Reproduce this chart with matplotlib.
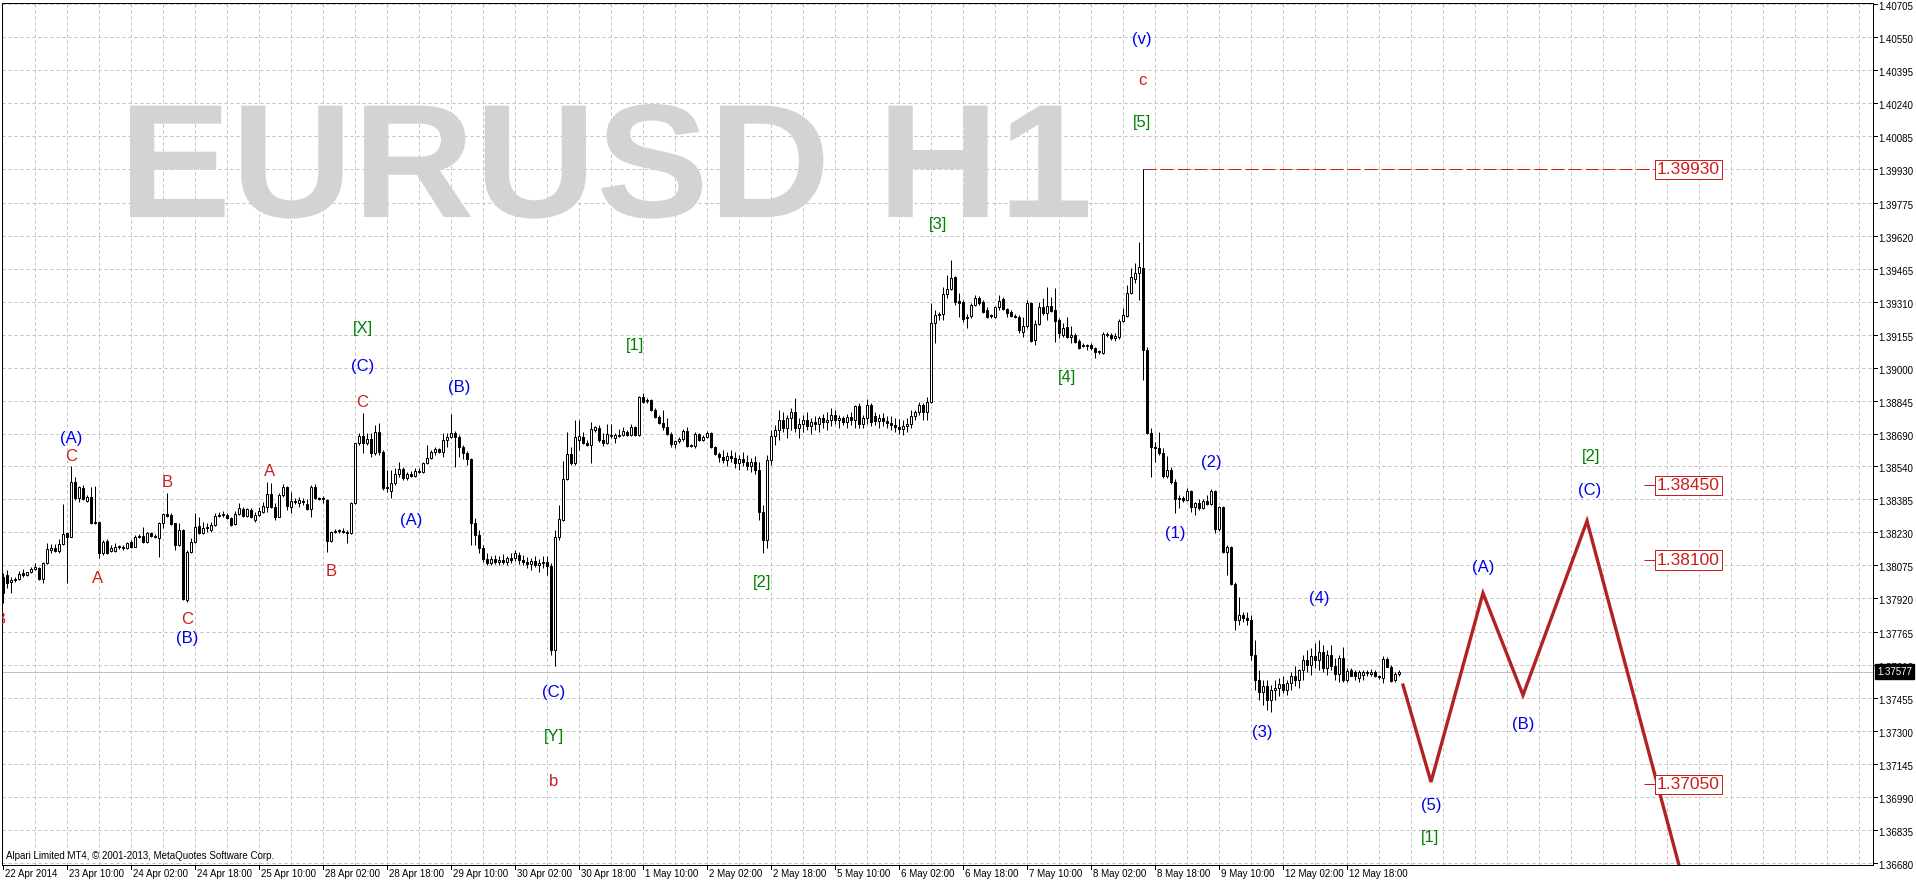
import matplotlib
matplotlib.use('Agg')
import matplotlib.pyplot as plt
import matplotlib.transforms as mtrans
from matplotlib.textpath import TextPath
from matplotlib.patches import PathPatch
from matplotlib.font_manager import FontProperties
import numpy as np

W, H = 1916, 884
PX = 0.72  # one pixel in points at dpi 100

# ---------------------------------------------------------------- data
time_labels = ['22 Apr 2014', '23 Apr 10:00', '24 Apr 02:00', '24 Apr 18:00', '25 Apr 10:00',
               '28 Apr 02:00', '28 Apr 18:00', '29 Apr 10:00', '30 Apr 02:00', '30 Apr 18:00',
               '1 May 10:00', '2 May 02:00', '2 May 18:00', '5 May 10:00', '6 May 02:00',
               '6 May 18:00', '7 May 10:00', '8 May 02:00', '8 May 18:00', '9 May 10:00',
               '12 May 02:00', '12 May 18:00']
time_label_bars = [0, 16, 32, 48, 64, 80, 96, 112, 128, 144, 160, 176, 192, 208, 224,
                   240, 256, 272, 288, 304, 320, 336]

price_ticks = [1.36680, 1.36835, 1.36990, 1.37145, 1.37300, 1.37455, 1.37610, 1.37765,
               1.37920, 1.38075, 1.38230, 1.38385, 1.38540, 1.38690, 1.38845, 1.39000,
               1.39155, 1.39310, 1.39465, 1.39620, 1.39775, 1.39930, 1.40085, 1.40240,
               1.40395, 1.40550, 1.40705]

opens = [
 1.38020, 1.38030, 1.37997, 1.38006, 1.38011, 1.38039, 1.38030, 1.38044, 1.38058, 1.38062,
 1.38011, 1.38086, 1.38147, 1.38156, 1.38142, 1.38175, 1.38226, 1.38208, 1.38466, 1.38391,
 1.38437, 1.38376, 1.38395, 1.38273, 1.38278, 1.38133, 1.38189, 1.38142, 1.38142, 1.38161,
 1.38161, 1.38156, 1.38184, 1.38161, 1.38208, 1.38212, 1.38184, 1.38226, 1.38208, 1.38203,
 1.38273, 1.38315, 1.38311, 1.38273, 1.38170, 1.38240, 1.37912, 1.38138, 1.38184, 1.38259,
 1.38226, 1.38250, 1.38240, 1.38264, 1.38306, 1.38311, 1.38311, 1.38297, 1.38268, 1.38315,
 1.38339, 1.38306, 1.38334, 1.38287, 1.38311, 1.38325, 1.38348, 1.38409, 1.38348, 1.38301,
 1.38405, 1.38442, 1.38348, 1.38372, 1.38367, 1.38376, 1.38362, 1.38339, 1.38442, 1.38391,
 1.38391, 1.38381, 1.38189, 1.38231, 1.38236, 1.38236, 1.38231, 1.38226, 1.38367, 1.38648,
 1.38681, 1.38648, 1.38667, 1.38601, 1.38700, 1.38606, 1.38437, 1.38423, 1.38461, 1.38503,
 1.38526, 1.38484, 1.38503, 1.38494, 1.38517, 1.38512, 1.38554, 1.38578, 1.38606, 1.38620,
 1.38606, 1.38662, 1.38676, 1.38695, 1.38676, 1.38629, 1.38601, 1.38573, 1.38273, 1.38217,
 1.38156, 1.38105, 1.38086, 1.38105, 1.38091, 1.38100, 1.38091, 1.38109, 1.38109, 1.38124,
 1.38100, 1.38091, 1.38081, 1.38095, 1.38077, 1.38086, 1.38091, 1.38072, 1.37678, 1.38208,
 1.38287, 1.38479, 1.38597, 1.38554, 1.38662, 1.38676, 1.38648, 1.38639, 1.38709, 1.38719,
 1.38662, 1.38648, 1.38681, 1.38671, 1.38681, 1.38686, 1.38700, 1.38686, 1.38723, 1.38686,
 1.38864, 1.38845, 1.38850, 1.38803, 1.38770, 1.38742, 1.38723, 1.38690, 1.38643, 1.38657,
 1.38667, 1.38704, 1.38634, 1.38634, 1.38690, 1.38662, 1.38676, 1.38695, 1.38629, 1.38597,
 1.38583, 1.38568, 1.38587, 1.38578, 1.38554, 1.38573, 1.38559, 1.38540, 1.38559, 1.38522,
 1.38325, 1.38194, 1.38568, 1.38681, 1.38709, 1.38756, 1.38719, 1.38765, 1.38793, 1.38719,
 1.38737, 1.38756, 1.38728, 1.38747, 1.38737, 1.38765, 1.38747, 1.38756, 1.38779, 1.38756,
 1.38765, 1.38747, 1.38770, 1.38756, 1.38822, 1.38737, 1.38765, 1.38826, 1.38775, 1.38751,
 1.38765, 1.38751, 1.38742, 1.38733, 1.38723, 1.38714, 1.38728, 1.38737, 1.38775, 1.38793,
 1.38826, 1.38793, 1.38841, 1.39210, 1.39248, 1.39253, 1.39346, 1.39370, 1.39426, 1.39313,
 1.39309, 1.39239, 1.39243, 1.39295, 1.39328, 1.39309, 1.39271, 1.39243, 1.39239, 1.39285,
 1.39323, 1.39276, 1.39262, 1.39243, 1.39239, 1.39168, 1.39197, 1.39304, 1.39131, 1.39206,
 1.39285, 1.39257, 1.39290, 1.39271, 1.39225, 1.39154, 1.39192, 1.39145, 1.39154, 1.39126,
 1.39103, 1.39108, 1.39108, 1.39093, 1.39075, 1.39070, 1.39159, 1.39154, 1.39140, 1.39145,
 1.39220, 1.39243, 1.39351, 1.39417, 1.39445, 1.39468, 1.39084, 1.38695, 1.38629, 1.38625,
 1.38601, 1.38494, 1.38522, 1.38466, 1.38386, 1.38391, 1.38381, 1.38423, 1.38348, 1.38367,
 1.38343, 1.38376, 1.38362, 1.38423, 1.38245, 1.38348, 1.38138, 1.38161, 1.37987, 1.37819,
 1.37842, 1.37828, 1.37819, 1.37655, 1.37537, 1.37481, 1.37509, 1.37444, 1.37491, 1.37500,
 1.37519, 1.37491, 1.37523, 1.37556, 1.37537, 1.37584, 1.37631, 1.37608, 1.37650, 1.37631,
 1.37669, 1.37594, 1.37655, 1.37603, 1.37566, 1.37641, 1.37537, 1.37584, 1.37575, 1.37547,
 1.37561, 1.37570, 1.37566, 1.37575, 1.37556, 1.37547, 1.37636, 1.37598, 1.37537, 1.37566]
highs = [
 1.38039, 1.38053, 1.38020, 1.38020, 1.38048, 1.38058, 1.38044, 1.38067, 1.38086, 1.38067,
 1.38091, 1.38180, 1.38175, 1.38175, 1.38199, 1.38362, 1.38231, 1.38540, 1.38489, 1.38447,
 1.38451, 1.38405, 1.38442, 1.38447, 1.38278, 1.38194, 1.38199, 1.38170, 1.38180, 1.38170,
 1.38170, 1.38184, 1.38194, 1.38217, 1.38222, 1.38254, 1.38231, 1.38231, 1.38222, 1.38278,
 1.38320, 1.38414, 1.38320, 1.38273, 1.38273, 1.38245, 1.38147, 1.38203, 1.38320, 1.38301,
 1.38278, 1.38273, 1.38278, 1.38320, 1.38325, 1.38329, 1.38320, 1.38301, 1.38329, 1.38367,
 1.38348, 1.38343, 1.38343, 1.38325, 1.38348, 1.38372, 1.38466, 1.38461, 1.38367, 1.38414,
 1.38456, 1.38447, 1.38419, 1.38391, 1.38395, 1.38391, 1.38386, 1.38451, 1.38456, 1.38395,
 1.38400, 1.38386, 1.38236, 1.38245, 1.38245, 1.38250, 1.38240, 1.38372, 1.38648, 1.38695,
 1.38789, 1.38695, 1.38695, 1.38733, 1.38742, 1.38615, 1.38522, 1.38522, 1.38531, 1.38559,
 1.38536, 1.38512, 1.38517, 1.38531, 1.38531, 1.38559, 1.38639, 1.38615, 1.38629, 1.38625,
 1.38695, 1.38695, 1.38784, 1.38704, 1.38686, 1.38639, 1.38611, 1.38578, 1.38297, 1.38240,
 1.38170, 1.38133, 1.38119, 1.38124, 1.38119, 1.38128, 1.38119, 1.38133, 1.38147, 1.38138,
 1.38124, 1.38114, 1.38109, 1.38119, 1.38105, 1.38119, 1.38119, 1.38086, 1.38240, 1.38358,
 1.38564, 1.38700, 1.38629, 1.38756, 1.38756, 1.38700, 1.38662, 1.38747, 1.38728, 1.38733,
 1.38695, 1.38737, 1.38737, 1.38695, 1.38714, 1.38723, 1.38709, 1.38737, 1.38728, 1.38869,
 1.38883, 1.38859, 1.38855, 1.38812, 1.38780, 1.38803, 1.38765, 1.38700, 1.38662, 1.38676,
 1.38714, 1.38723, 1.38643, 1.38700, 1.38695, 1.38686, 1.38704, 1.38700, 1.38634, 1.38606,
 1.38615, 1.38606, 1.38615, 1.38606, 1.38592, 1.38606, 1.38592, 1.38578, 1.38587, 1.38559,
 1.38358, 1.38592, 1.38709, 1.38733, 1.38803, 1.38793, 1.38780, 1.38812, 1.38859, 1.38765,
 1.38780, 1.38793, 1.38765, 1.38775, 1.38775, 1.38784, 1.38793, 1.38812, 1.38803, 1.38779,
 1.38775, 1.38784, 1.38793, 1.38826, 1.38836, 1.38779, 1.38855, 1.38836, 1.38793, 1.38784,
 1.38789, 1.38775, 1.38775, 1.38765, 1.38761, 1.38756, 1.38765, 1.38803, 1.38803, 1.38840,
 1.38836, 1.38864, 1.39304, 1.39271, 1.39262, 1.39379, 1.39435, 1.39506, 1.39431, 1.39351,
 1.39318, 1.39253, 1.39304, 1.39342, 1.39337, 1.39318, 1.39285, 1.39253, 1.39290, 1.39342,
 1.39332, 1.39281, 1.39271, 1.39253, 1.39248, 1.39239, 1.39318, 1.39309, 1.39225, 1.39309,
 1.39328, 1.39379, 1.39332, 1.39375, 1.39234, 1.39211, 1.39239, 1.39197, 1.39164, 1.39136,
 1.39117, 1.39112, 1.39117, 1.39098, 1.39084, 1.39168, 1.39168, 1.39164, 1.39164, 1.39229,
 1.39281, 1.39389, 1.39468, 1.39492, 1.39590, 1.39930, 1.39098, 1.38719, 1.38653, 1.38700,
 1.38625, 1.38587, 1.38536, 1.38479, 1.38405, 1.38400, 1.38437, 1.38428, 1.38372, 1.38386,
 1.38386, 1.38405, 1.38433, 1.38428, 1.38353, 1.38353, 1.38170, 1.38166, 1.37997, 1.37926,
 1.37856, 1.37856, 1.37842, 1.37725, 1.37584, 1.37537, 1.37537, 1.37514, 1.37537, 1.37547,
 1.37556, 1.37537, 1.37575, 1.37603, 1.37589, 1.37655, 1.37678, 1.37687, 1.37711, 1.37725,
 1.37701, 1.37678, 1.37701, 1.37641, 1.37655, 1.37692, 1.37594, 1.37594, 1.37584, 1.37584,
 1.37584, 1.37584, 1.37589, 1.37584, 1.37561, 1.37650, 1.37645, 1.37608, 1.37575, 1.37584]
lows = [
 1.37898, 1.37969, 1.37945, 1.37997, 1.38006, 1.38020, 1.38025, 1.38039, 1.38053, 1.38006,
 1.37992, 1.38081, 1.38133, 1.38138, 1.38133, 1.38170, 1.37992, 1.38208, 1.38381, 1.38372,
 1.38381, 1.38372, 1.38268, 1.38268, 1.38109, 1.38124, 1.38128, 1.38138, 1.38138, 1.38152,
 1.38147, 1.38152, 1.38156, 1.38161, 1.38203, 1.38180, 1.38180, 1.38208, 1.38203, 1.38114,
 1.38250, 1.38301, 1.38264, 1.38147, 1.38166, 1.37912, 1.37903, 1.38133, 1.38180, 1.38222,
 1.38222, 1.38231, 1.38231, 1.38259, 1.38301, 1.38301, 1.38292, 1.38259, 1.38264, 1.38311,
 1.38301, 1.38301, 1.38297, 1.38278, 1.38306, 1.38320, 1.38325, 1.38343, 1.38287, 1.38301,
 1.38395, 1.38334, 1.38320, 1.38362, 1.38348, 1.38358, 1.38334, 1.38301, 1.38386, 1.38381,
 1.38367, 1.38138, 1.38184, 1.38226, 1.38226, 1.38226, 1.38180, 1.38222, 1.38362, 1.38639,
 1.38601, 1.38639, 1.38583, 1.38592, 1.38592, 1.38428, 1.38419, 1.38391, 1.38451, 1.38489,
 1.38475, 1.38475, 1.38489, 1.38489, 1.38508, 1.38508, 1.38550, 1.38573, 1.38592, 1.38601,
 1.38583, 1.38629, 1.38671, 1.38536, 1.38583, 1.38573, 1.38545, 1.38170, 1.38170, 1.38133,
 1.38091, 1.38077, 1.38077, 1.38081, 1.38077, 1.38081, 1.38077, 1.38086, 1.38095, 1.38081,
 1.38077, 1.38063, 1.38053, 1.38067, 1.38044, 1.38063, 1.38030, 1.37655, 1.37603, 1.38194,
 1.38283, 1.38475, 1.38545, 1.38545, 1.38615, 1.38643, 1.38634, 1.38554, 1.38700, 1.38653,
 1.38634, 1.38643, 1.38671, 1.38648, 1.38676, 1.38681, 1.38681, 1.38681, 1.38681, 1.38681,
 1.38836, 1.38836, 1.38798, 1.38765, 1.38737, 1.38709, 1.38686, 1.38629, 1.38625, 1.38648,
 1.38657, 1.38629, 1.38629, 1.38625, 1.38657, 1.38657, 1.38671, 1.38625, 1.38592, 1.38559,
 1.38554, 1.38540, 1.38559, 1.38531, 1.38522, 1.38540, 1.38522, 1.38512, 1.38503, 1.38287,
 1.38133, 1.38156, 1.38545, 1.38639, 1.38662, 1.38700, 1.38671, 1.38709, 1.38700, 1.38671,
 1.38700, 1.38709, 1.38690, 1.38709, 1.38700, 1.38719, 1.38709, 1.38728, 1.38737, 1.38719,
 1.38733, 1.38719, 1.38733, 1.38719, 1.38719, 1.38719, 1.38737, 1.38728, 1.38733, 1.38719,
 1.38728, 1.38719, 1.38709, 1.38700, 1.38690, 1.38686, 1.38700, 1.38719, 1.38756, 1.38779,
 1.38756, 1.38756, 1.38836, 1.39117, 1.39225, 1.39225, 1.39328, 1.39365, 1.39295, 1.39239,
 1.39215, 1.39187, 1.39234, 1.39290, 1.39295, 1.39257, 1.39234, 1.39234, 1.39234, 1.39271,
 1.39271, 1.39239, 1.39239, 1.39234, 1.39164, 1.39145, 1.39187, 1.39122, 1.39108, 1.39201,
 1.39248, 1.39225, 1.39262, 1.39122, 1.39140, 1.39145, 1.39140, 1.39117, 1.39117, 1.39089,
 1.39098, 1.39084, 1.39084, 1.39046, 1.39065, 1.39065, 1.39145, 1.39131, 1.39126, 1.39136,
 1.39215, 1.39239, 1.39346, 1.39398, 1.39318, 1.38943, 1.38690, 1.38489, 1.38559, 1.38592,
 1.38484, 1.38484, 1.38456, 1.38320, 1.38343, 1.38372, 1.38376, 1.38325, 1.38311, 1.38334,
 1.38339, 1.38358, 1.38358, 1.38226, 1.38236, 1.38133, 1.38030, 1.37983, 1.37772, 1.37795,
 1.37809, 1.37795, 1.37631, 1.37491, 1.37444, 1.37421, 1.37397, 1.37388, 1.37444, 1.37463,
 1.37477, 1.37467, 1.37491, 1.37509, 1.37500, 1.37537, 1.37575, 1.37561, 1.37594, 1.37584,
 1.37575, 1.37561, 1.37584, 1.37537, 1.37528, 1.37528, 1.37528, 1.37561, 1.37537, 1.37528,
 1.37537, 1.37556, 1.37556, 1.37552, 1.37542, 1.37524, 1.37598, 1.37528, 1.37528, 1.37556]
closes = [
 1.37945, 1.37992, 1.38006, 1.38011, 1.38034, 1.38030, 1.38044, 1.38058, 1.38067, 1.38011,
 1.38086, 1.38152, 1.38156, 1.38142, 1.38175, 1.38221, 1.38208, 1.38466, 1.38391, 1.38442,
 1.38386, 1.38395, 1.38273, 1.38278, 1.38133, 1.38184, 1.38133, 1.38156, 1.38161, 1.38166,
 1.38156, 1.38180, 1.38161, 1.38208, 1.38212, 1.38184, 1.38226, 1.38212, 1.38212, 1.38273,
 1.38315, 1.38306, 1.38268, 1.38170, 1.38240, 1.37917, 1.38138, 1.38184, 1.38254, 1.38226,
 1.38250, 1.38254, 1.38264, 1.38306, 1.38311, 1.38315, 1.38297, 1.38264, 1.38315, 1.38343,
 1.38306, 1.38339, 1.38301, 1.38311, 1.38329, 1.38353, 1.38409, 1.38348, 1.38301, 1.38405,
 1.38442, 1.38353, 1.38376, 1.38376, 1.38381, 1.38372, 1.38339, 1.38442, 1.38391, 1.38386,
 1.38386, 1.38189, 1.38231, 1.38236, 1.38240, 1.38231, 1.38226, 1.38367, 1.38648, 1.38681,
 1.38648, 1.38667, 1.38601, 1.38700, 1.38606, 1.38437, 1.38442, 1.38461, 1.38503, 1.38526,
 1.38484, 1.38503, 1.38494, 1.38517, 1.38512, 1.38554, 1.38578, 1.38606, 1.38620, 1.38606,
 1.38662, 1.38676, 1.38695, 1.38676, 1.38629, 1.38601, 1.38573, 1.38273, 1.38217, 1.38156,
 1.38105, 1.38086, 1.38105, 1.38091, 1.38100, 1.38091, 1.38109, 1.38100, 1.38133, 1.38100,
 1.38091, 1.38081, 1.38095, 1.38077, 1.38086, 1.38091, 1.38072, 1.37678, 1.38208, 1.38292,
 1.38479, 1.38597, 1.38554, 1.38676, 1.38681, 1.38648, 1.38639, 1.38714, 1.38723, 1.38662,
 1.38648, 1.38690, 1.38686, 1.38686, 1.38686, 1.38704, 1.38686, 1.38723, 1.38686, 1.38864,
 1.38841, 1.38850, 1.38803, 1.38770, 1.38742, 1.38723, 1.38690, 1.38643, 1.38657, 1.38667,
 1.38704, 1.38634, 1.38639, 1.38690, 1.38662, 1.38676, 1.38695, 1.38629, 1.38597, 1.38583,
 1.38568, 1.38587, 1.38578, 1.38554, 1.38573, 1.38559, 1.38540, 1.38559, 1.38522, 1.38325,
 1.38194, 1.38568, 1.38681, 1.38709, 1.38756, 1.38719, 1.38765, 1.38793, 1.38719, 1.38737,
 1.38756, 1.38728, 1.38747, 1.38737, 1.38765, 1.38747, 1.38756, 1.38779, 1.38756, 1.38765,
 1.38747, 1.38770, 1.38756, 1.38822, 1.38737, 1.38765, 1.38826, 1.38747, 1.38751, 1.38765,
 1.38751, 1.38742, 1.38733, 1.38723, 1.38714, 1.38728, 1.38737, 1.38775, 1.38793, 1.38826,
 1.38793, 1.38841, 1.39210, 1.39248, 1.39253, 1.39346, 1.39370, 1.39421, 1.39309, 1.39304,
 1.39229, 1.39234, 1.39295, 1.39328, 1.39304, 1.39262, 1.39239, 1.39248, 1.39285, 1.39313,
 1.39276, 1.39257, 1.39243, 1.39239, 1.39178, 1.39197, 1.39304, 1.39126, 1.39206, 1.39285,
 1.39257, 1.39290, 1.39267, 1.39220, 1.39164, 1.39187, 1.39145, 1.39154, 1.39122, 1.39093,
 1.39108, 1.39103, 1.39093, 1.39075, 1.39079, 1.39159, 1.39154, 1.39140, 1.39150, 1.39220,
 1.39248, 1.39351, 1.39426, 1.39445, 1.39473, 1.39084, 1.38695, 1.38629, 1.38625, 1.38601,
 1.38494, 1.38522, 1.38466, 1.38386, 1.38391, 1.38381, 1.38423, 1.38348, 1.38367, 1.38343,
 1.38376, 1.38362, 1.38423, 1.38245, 1.38348, 1.38138, 1.38161, 1.37987, 1.37819, 1.37842,
 1.37828, 1.37819, 1.37655, 1.37537, 1.37481, 1.37509, 1.37444, 1.37491, 1.37500, 1.37519,
 1.37491, 1.37523, 1.37556, 1.37537, 1.37584, 1.37631, 1.37608, 1.37650, 1.37631, 1.37669,
 1.37594, 1.37655, 1.37603, 1.37566, 1.37641, 1.37537, 1.37580, 1.37556, 1.37556, 1.37575,
 1.37575, 1.37575, 1.37575, 1.37556, 1.37552, 1.37636, 1.37598, 1.37533, 1.37566, 1.37577]

bid_price = 1.37577
spike_high = 1.39930
spike_bar = 285

# projected path (red zigzag)
proj_bars = [350, 357, 370, 380, 396, 420]
proj_prices = [1.37514, 1.37060, 1.37945, 1.37467, 1.38283, 1.36600]

# price boxes on the right
level_texts = ['1.39930', '1.38450', '1.38100', '1.37050']
level_prices = [1.39930, 1.38450, 1.38100, 1.37050]

# Elliott wave marks
wave_texts = ['B', '(A)', 'C', 'A', 'B', 'C', '(B)', 'A', 'B', 'C', '(C)', '[X]',
              '(A)', '(B)', '[1]', '(C)', '[Y]', 'b', '[2]', '[3]', '[4]',
              '(v)', 'c', '[5]', '(1)', '(2)', '(3)', '(4)', '(5)', '[1]',
              '(A)', '(B)', '(C)', '[2]']
wave_bars = [-0.6, 17, 17, 23.75, 41, 46, 46, 66.75, 82, 89.75, 90, 90,
             102, 114, 158, 137.75, 137.75, 137.75, 189.75, 233.75, 266,
             284.75, 284.75, 284.75, 293, 302, 314.75, 329, 357, 356.75,
             370, 380, 396.75, 397]
wave_prices = [1.37819, 1.38671, 1.38587, 1.38015, 1.38461, 1.37819, 1.37734, 1.38517,
               1.38044, 1.38836, 1.39009, 1.39187, 1.38287, 1.38910, 1.39107,
               1.37481, 1.37271, 1.37060, 1.37997, 1.39670, 1.38953,
               1.40541, 1.40349, 1.40152, 1.38222, 1.38559, 1.37290, 1.37922,
               1.36952, 1.36802, 1.38067, 1.37327, 1.38428, 1.38583]
wave_colors = ['r', 'b', 'r', 'r', 'r', 'r', 'b', 'r', 'r', 'r', 'b', 'g',
               'b', 'b', 'g', 'b', 'g', 'r', 'g', 'g', 'g',
               'b', 'r', 'g', 'b', 'b', 'b', 'b', 'b', 'g',
               'b', 'b', 'b', 'g']

# ---------------------------------------------------------------- style
RED = '#c8201e'
BLUE = '#0000e6'
GREEN = '#008000'
GRID = '#c0c0c0'
col = {'r': RED, 'b': BLUE, 'g': GREEN}
AXFONT = 'Liberation Sans'
AXSIZE = 7

fig = plt.figure(figsize=(W / 100, H / 100), dpi=100, facecolor='white')
ax = fig.add_axes([2 / W, 19 / H, 1871 / W, 862 / H])
ax.set_xlim(-0.25, 467.5)
ax.set_ylim(1.36671, 1.40710)
ax.set_xticks([])
ax.set_yticks([])
for s in ax.spines.values():
    s.set_color('black')
    s.set_linewidth(PX)

# grid
for p in price_ticks:
    ax.axhline(p, color=GRID, lw=PX, ls=(0, (3, 3)), zorder=0.5)
for b in range(8, 468, 8):
    ax.axvline(b, color=GRID, lw=PX, ls=(0, (3, 3)), zorder=0.5)

# watermark, fitted into its box (pixels from bottom-left)
tp = TextPath((0, 0), 'EURUSD H1', size=100,
              prop=FontProperties(family='Liberation Sans', weight='bold'))
ext = tp.get_extents()
wm_x0, wm_x1, wm_base, wm_top = 130, 1088, H - 217, H - 104
wm_tf = mtrans.Affine2D().translate(-ext.x0, 0).scale(
    (wm_x1 - wm_x0) / ext.width, (wm_top - wm_base) / ext.y1).translate(wm_x0, wm_base)
ax.add_artist(PathPatch(tp, transform=wm_tf, fc='#d3d3d3', ec='none', zorder=1))

# bid line
ax.axhline(bid_price, color='#c0c0c0', lw=PX, zorder=1.5)

# candles
x = np.arange(len(closes))
o = np.array(opens); hi = np.array(highs); lo = np.array(lows); c = np.array(closes)
ax.vlines(x, lo, hi, color='black', lw=PX, zorder=3)
up = c >= o
bot = np.minimum(o, c)
ht = np.abs(c - o)
ax.bar(x[up], ht[up], bottom=bot[up], width=0.5, facecolor='white', edgecolor='black',
       linewidth=PX, zorder=4)
ax.bar(x[~up], ht[~up], bottom=bot[~up], width=0.5, facecolor='black', edgecolor='black',
       linewidth=PX, zorder=4)

# dashed high line and projection
ax.hlines(spike_high, spike_bar, 413.5, color=RED, lw=PX, linestyles=(0, (13, 4)), zorder=2)
ax.plot(proj_bars, proj_prices, color='#b22222', lw=2.4, zorder=5, solid_joinstyle='miter')

for t, p in zip(level_texts, level_prices):
    if t != '1.39930':
        ax.hlines(p, 410.25, 412.9, color=RED, lw=PX, zorder=5)
    ax.text(413.4, p, t, ha='left', va='center', fontsize=12.5, color=RED,
            family='Liberation Sans', zorder=6,
            bbox=dict(boxstyle='square,pad=0.12', fc='white', ec=RED, lw=PX))

for t, b, p, cc in zip(wave_texts, wave_bars, wave_prices, wave_colors):
    ax.text(b, p, t, ha='center', va='center', fontsize=12, color=col[cc],
            family='Liberation Sans', zorder=6, clip_on=True)

# right price scale
tr_y = mtrans.blended_transform_factory(ax.transAxes, ax.transData)
for p in price_ticks:
    ax.plot([1, 1 + 4 / 1871], [p, p], color='black', lw=PX, transform=tr_y, clip_on=False)
    ax.annotate('%.5f' % p, xy=(1, p), xycoords=tr_y, xytext=(5 * PX, -3 * PX),
                textcoords='offset points', ha='left', va='center', fontsize=AXSIZE,
                family=AXFONT, color='black', annotation_clip=False)
ax.annotate('%.5f' % bid_price, xy=(1, bid_price), xycoords=tr_y, xytext=(4 * PX, 0),
            textcoords='offset points', ha='left', va='center', fontsize=AXSIZE,
            family=AXFONT, color='white', annotation_clip=False,
            bbox=dict(boxstyle='square,pad=0.25', fc='black', ec='black'))

# time scale
tr_x = mtrans.blended_transform_factory(ax.transData, ax.transAxes)
for t, b in zip(time_labels, time_label_bars):
    ax.plot([b, b], [0, -4 / 862], color='black', lw=PX, transform=tr_x, clip_on=False)
    ax.annotate(t, xy=(b, 0), xycoords=tr_x, xytext=(2 * PX, -4 * PX),
                textcoords='offset points', ha='left', va='top', fontsize=AXSIZE,
                family=AXFONT, color='black', annotation_clip=False)

ax.text(4 / 1871, 4 / 862, 'Alpari Limited MT4, \u00a9 2001-2013, MetaQuotes Software Corp.',
        transform=ax.transAxes, ha='left', va='bottom', fontsize=AXSIZE, family=AXFONT,
        color='black', zorder=6)

fig.savefig('out.png', dpi=100, facecolor='white')
